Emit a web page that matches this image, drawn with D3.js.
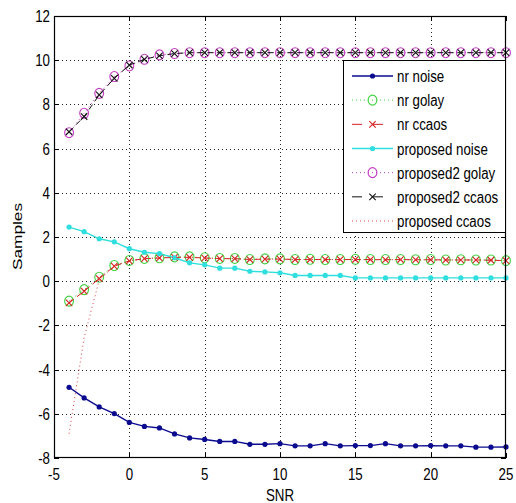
<!DOCTYPE html>
<html>
<head>
<meta charset="utf-8">
<script src="https://cdn.jsdelivr.net/npm/d3@7"></script>
<style>
  html, body { margin: 0; padding: 0; background: #fff; }
  svg { display: block; }
  text { font-family: "Liberation Sans", Arial, sans-serif; fill: #000; }
</style>
</head>
<body>
<svg id="chart" width="516" height="503"></svg>
<script>
// SNR values along the x axis
const snr = [-4, -3, -2, -1, 0, 1, 2, 3, 4, 5, 6, 7, 8, 9, 10, 11, 12, 13, 14,
             15, 16, 17, 18, 19, 20, 21, 22, 23, 24, 25];

const nrNoise = [-4.80, -5.28, -5.69, -5.99, -6.39, -6.57, -6.64, -6.91, -7.09, -7.16,
                 -7.25, -7.25, -7.38, -7.38, -7.35, -7.45, -7.45, -7.35, -7.45, -7.44,
                 -7.44, -7.35, -7.45, -7.45, -7.44, -7.45, -7.45, -7.51, -7.51, -7.50];
const nrGolay = [-0.90, -0.38, 0.18, 0.71, 0.94, 1.03, 1.06, 1.10, 1.10, 1.06,
                 1.03, 1.03, 0.98, 1.01, 1.01, 0.98, 0.99, 0.98, 0.98, 0.99,
                 0.98, 0.98, 0.98, 0.97, 0.98, 0.96, 0.97, 0.96, 0.96, 0.93];
const nrCcaos = [-0.98, -0.45, 0.12, 0.68, 0.92, 1.02, 1.05, 1.08, 1.08, 1.05,
                 1.02, 1.02, 0.98, 1.00, 1.00, 0.98, 0.98, 0.98, 0.98, 0.98,
                 0.98, 0.97, 0.98, 0.97, 0.97, 0.96, 0.96, 0.96, 0.95, 0.93];
const proposedNoise = [2.45, 2.24, 1.92, 1.78, 1.47, 1.31, 1.25, 1.06, 0.83, 0.74,
                       0.59, 0.59, 0.45, 0.42, 0.38, 0.26, 0.26, 0.26, 0.26, 0.15,
                       0.15, 0.15, 0.15, 0.15, 0.15, 0.15, 0.15, 0.15, 0.15, 0.15];
const proposed2Golay = [6.72, 7.60, 8.50, 9.26, 9.74, 10.04, 10.24, 10.30, 10.34, 10.34,
                        10.34, 10.34, 10.34, 10.34, 10.34, 10.34, 10.34, 10.34, 10.34, 10.34,
                        10.34, 10.34, 10.34, 10.34, 10.34, 10.34, 10.34, 10.34, 10.34, 10.34];
const proposed2Ccaos = [6.76, 7.45, 8.43, 9.18, 9.78, 10.04, 10.20, 10.30, 10.34, 10.34,
                        10.34, 10.34, 10.34, 10.34, 10.34, 10.34, 10.34, 10.34, 10.34, 10.34,
                        10.34, 10.34, 10.34, 10.34, 10.34, 10.34, 10.34, 10.34, 10.34, 10.34];
const proposedCcaos = [-6.90, -2.55, 0.05, 0.68, 0.92, 1.02, 1.05, 1.08, 1.08, 1.05,
                       1.02, 1.02, 0.98, 1.00, 1.00, 0.98, 0.98, 0.98, 0.98, 0.98,
                       0.98, 0.97, 0.98, 0.97, 0.97, 0.96, 0.96, 0.96, 0.95, 0.93];

const xTicks = [-5, 0, 5, 10, 15, 20, 25];
const yTicks = [-8, -6, -4, -2, 0, 2, 4, 6, 8, 10, 12];
const seriesNames = ["nr noise", "nr golay", "nr ccaos", "proposed noise",
                     "proposed2 golay", "proposed2 ccaos", "proposed ccaos"];

// line/marker styling per series
const styles = [
  { values: nrNoise,        color: "#0b0b8f", dash: null,  width: 1.4, marker: "dot" },
  { values: nrGolay,        color: "#3fd23f", dash: "1,3", width: 1,   marker: "circle" },
  { values: nrCcaos,        color: "#d42020", dash: "6,4", width: 1,   marker: "x" },
  { values: proposedNoise,  color: "#2fdede", dash: null,  width: 1.4, marker: "dot" },
  { values: proposed2Golay, color: "#c23cc2", dash: "1,3", width: 1,   marker: "circle" },
  { values: proposed2Ccaos, color: "#111111", dash: "6,4", width: 1,   marker: "x" },
  { values: proposedCcaos,  color: "#e04040", dash: "1,3", width: 1,   marker: null }
];

const W = 516, H = 503;
const margin = { left: 54, top: 16, right: 10, bottom: 45 };
const svg = d3.select("#chart");
const x = d3.scaleLinear().domain([-5, 25]).range([margin.left, W - margin.right]);
const y = d3.scaleLinear().domain([-8, 12]).range([H - margin.bottom, margin.top]);
const FS = 13.3, SY = 1.3;   // text is drawn tall and narrow

function label(g, px, py, str, anchor, rot) {
  const t = g.append("text")
    .attr("transform", `translate(${px},${py}) scale(1,${SY})` + (rot ? ` rotate(${rot})` : ""))
    .attr("text-anchor", anchor)
    .style("font-size", FS + "px")
    .text(str);
  return t;
}

// white axes background
svg.append("rect").attr("x", x(-5)).attr("y", y(12))
  .attr("width", x(25) - x(-5)).attr("height", y(-8) - y(12)).attr("fill", "#fff");

// dotted grid
const grid = svg.append("g").attr("stroke", "#222").attr("stroke-width", 1)
  .attr("stroke-dasharray", "1,3");
xTicks.slice(1, -1).forEach(v => grid.append("line")
  .attr("x1", Math.round(x(v)) + 0.5).attr("x2", Math.round(x(v)) + 0.5)
  .attr("y1", y(12)).attr("y2", y(-8)));
yTicks.slice(1, -1).forEach(v => grid.append("line")
  .attr("y1", Math.round(y(v)) + 0.5).attr("y2", Math.round(y(v)) + 0.5)
  .attr("x1", x(-5)).attr("x2", x(25)));

// series
const plot = svg.append("g");
function drawMarker(g, cx, cy, s, kind) {
  if (kind === "dot") {
    g.append("circle").attr("cx", cx).attr("cy", cy).attr("r", 2.6)
      .attr("fill", s.color).attr("stroke", "none");
  } else if (kind === "circle") {
    g.append("ellipse").attr("cx", cx).attr("cy", cy).attr("rx", 4.4).attr("ry", 5)
      .attr("fill", "none").attr("stroke", s.color).attr("stroke-width", 1.1);
  } else if (kind === "x") {
    const r = 3.2;
    g.append("path")
      .attr("d", `M${cx - r},${cy - r}L${cx + r},${cy + r}M${cx - r},${cy + r}L${cx + r},${cy - r}`)
      .attr("stroke", s.color).attr("stroke-width", 1.1).attr("fill", "none");
  }
}
styles.forEach(s => {
  const pts = snr.map((v, i) => [x(v), y(s.values[i])]);
  plot.append("path")
    .attr("d", d3.line()(pts))
    .attr("fill", "none").attr("stroke", s.color).attr("stroke-width", s.width)
    .attr("stroke-dasharray", s.dash);
  if (s.marker) pts.forEach(p => drawMarker(plot, p[0], p[1], s, s.marker));
});

// box and inward ticks
const axes = svg.append("g").attr("stroke", "#000").attr("fill", "none");
axes.append("rect").attr("x", x(-5) + 0.5).attr("y", y(12) + 0.5)
  .attr("width", x(25) - x(-5) - 1).attr("height", y(-8) - y(12) - 1).attr("stroke-width", 1.2);
xTicks.forEach(v => {
  const px = Math.round(x(v)) + 0.5;
  axes.append("line").attr("x1", px).attr("x2", px).attr("y1", y(-8)).attr("y2", y(-8) - 5);
  axes.append("line").attr("x1", px).attr("x2", px).attr("y1", y(12)).attr("y2", y(12) + 5);
});
yTicks.forEach(v => {
  const py = Math.round(y(v)) + 0.5;
  axes.append("line").attr("y1", py).attr("y2", py).attr("x1", x(-5)).attr("x2", x(-5) + 5);
  axes.append("line").attr("y1", py).attr("y2", py).attr("x1", x(25)).attr("x2", x(25) - 5);
});

// tick labels
const tl = svg.append("g");
xTicks.forEach(v => label(tl, x(v), 480, String(v), "middle"));
yTicks.forEach(v => label(tl, 50, y(v) + 6, String(v), "end"));

// axis titles
label(svg, x(10), 501, "SNR", "middle");
label(svg, 22, 236.5, "Samples", "middle", -90);

// legend
const lg = svg.append("g");
const lx0 = 343, ly0 = 60, lx1 = 506, ly1 = 233;
lg.append("rect").attr("x", lx0 + 0.5).attr("y", ly0 + 0.5)
  .attr("width", lx1 - lx0 - 1).attr("height", ly1 - ly0 - 1)
  .attr("fill", "#fff").attr("stroke", "#000").attr("stroke-width", 1);
const rowY = d3.scaleLinear().domain([0, seriesNames.length - 1]).range([76, 221]);
seriesNames.forEach((name, i) => {
  const s = styles[i];
  const cy = rowY(i);
  lg.append("line").attr("x1", 352).attr("x2", 393).attr("y1", cy).attr("y2", cy)
    .attr("stroke", s.color).attr("stroke-width", s.width).attr("stroke-dasharray", s.dash === "6,4" ? "10,11" : s.dash);
  if (s.marker) drawMarker(lg, 372.5, cy, s, s.marker);
  label(lg, 397, cy + 6, name, "start");
});
</script>
</body>
</html>
